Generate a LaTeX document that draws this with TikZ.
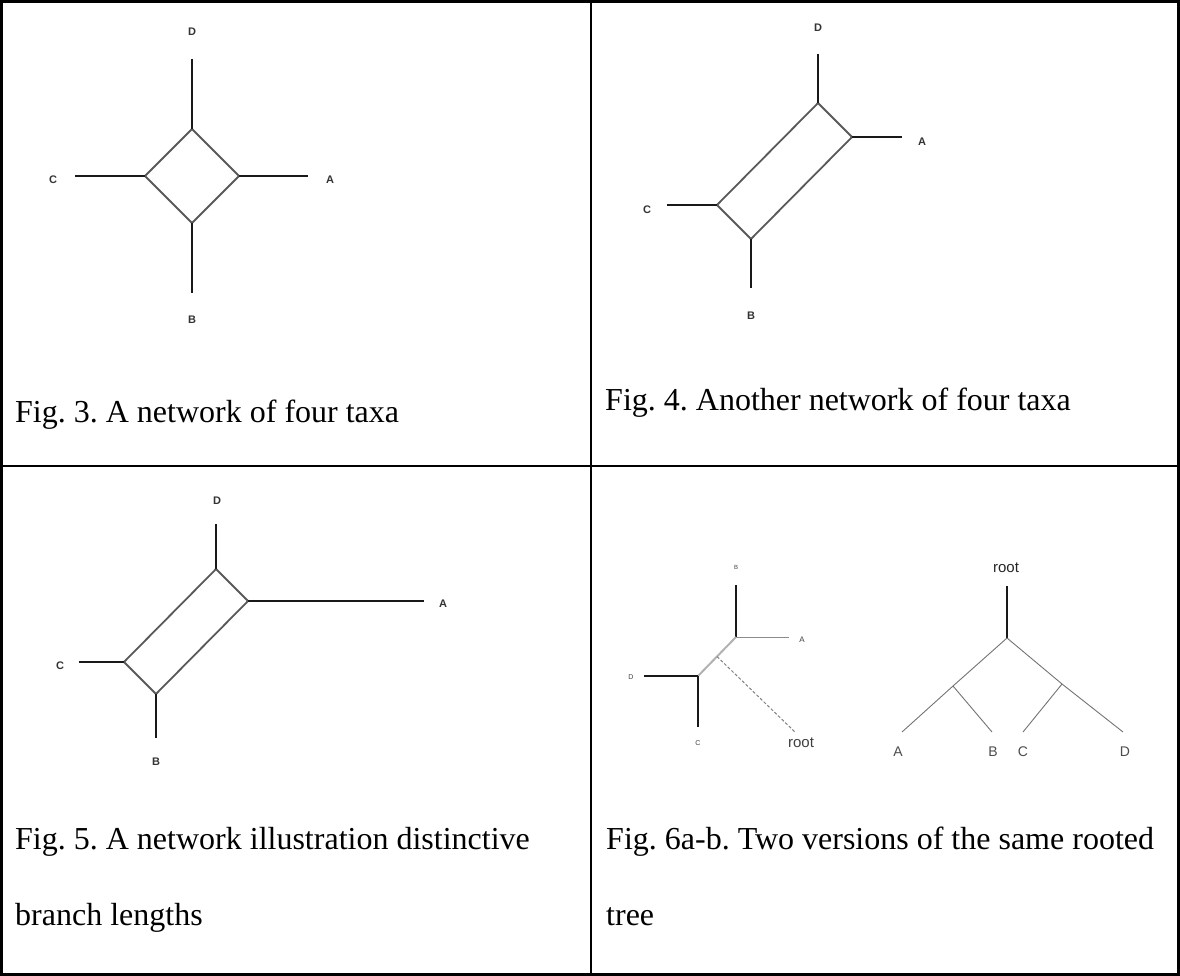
\documentclass[tikz,border=0pt]{standalone}
\usepackage{fontspec}
\setmainfont{Liberation Serif}
\setsansfont{Liberation Sans}
\usepackage{tikz}
\frenchspacing

\begin{document}
\begin{tikzpicture}[
  x=1pt, y=-1pt,
  every node/.style={inner sep=0pt},
  frame/.style={line width=2.5pt, black},
  figcap/.style={anchor=base west, font=\fontsize{32}{36}\selectfont},
  taxon/.style={font=\sffamily\bfseries\fontsize{11}{13}\selectfont, text=black!80},
  smalltaxon/.style={font=\sffamily\fontsize{#1}{#1}\selectfont, text=black!75},
  pendant/.style={line width=1.6pt, black!90},
  splitedge/.style={line width=1.8pt, black!65},
  treeedge/.style={line width=0.9pt, black!55},
  rootpath/.style={line width=1pt, black!50, dash pattern=on 3pt off 2pt}
]
  \useasboundingbox (0,0) rectangle (1180,976);
  % table
  \draw[frame] (1.5,1.5) rectangle (1178.5,974.5);
  \draw[frame] (591,1.5) -- (591,974.5);
  \draw[frame] (1.5,466) -- (1178.5,466);

  % Fig. 3: square split network
  \coordinate (n3) at (192,129);
  \coordinate (e3) at (239,176);
  \coordinate (s3) at (192,223);
  \coordinate (w3) at (145,176);
  \coordinate (d3) at (192,59);
  \coordinate (a3) at (308,176);
  \coordinate (b3) at (192,293);
  \coordinate (c3) at (75,176);
  \node[taxon] (D3) at (192,32) {D};
  \node[taxon] (A3) at (330,180) {A};
  \node[taxon] (B3) at (192,320) {B};
  \node[taxon] (C3) at (53,180) {C};
  \draw[splitedge] (n3) -- (e3) -- (s3) -- (w3) -- cycle;
  \draw[pendant] (d3) -- (n3);
  \draw[pendant] (e3) -- (a3);
  \draw[pendant] (s3) -- (b3);
  \draw[pendant] (c3) -- (w3);
  \node[figcap] (cap3) at (15,422) {Fig. 3. A network of four taxa};

  % Fig. 4: long split
  \coordinate (n4) at (818,103);
  \coordinate (e4) at (852,137);
  \coordinate (s4) at (751,239);
  \coordinate (w4) at (717,205);
  \coordinate (d4) at (818,54);
  \coordinate (a4) at (902,137);
  \coordinate (b4) at (751,288);
  \coordinate (c4) at (667,205);
  \node[taxon] (D4) at (818,28) {D};
  \node[taxon] (A4) at (922,142) {A};
  \node[taxon] (B4) at (751,316) {B};
  \node[taxon] (C4) at (647,210) {C};
  \draw[splitedge] (n4) -- (e4) -- (s4) -- (w4) -- cycle;
  \draw[pendant] (d4) -- (n4);
  \draw[pendant] (e4) -- (a4);
  \draw[pendant] (s4) -- (b4);
  \draw[pendant] (c4) -- (w4);
  \node[figcap] (cap4) at (605,410) {Fig. 4. Another network of four taxa};

  % Fig. 5: long branch to A
  \coordinate (n5) at (216,569);
  \coordinate (e5) at (248,601);
  \coordinate (s5) at (156,694);
  \coordinate (w5) at (124,662);
  \coordinate (d5) at (216,524);
  \coordinate (a5) at (424,601);
  \coordinate (b5) at (156,738);
  \coordinate (c5) at (79,662);
  \node[taxon] (D5) at (217,501) {D};
  \node[taxon] (A5) at (443,604) {A};
  \node[taxon] (B5) at (156,762) {B};
  \node[taxon] (C5) at (60,666) {C};
  \draw[splitedge] (n5) -- (e5) -- (s5) -- (w5) -- cycle;
  \draw[pendant] (d5) -- (n5);
  \draw[pendant] (e5) -- (a5);
  \draw[pendant] (s5) -- (b5);
  \draw[pendant] (c5) -- (w5);
  \node[figcap] (cap5) at (15,849) {Fig. 5. A network illustration distinctive};
  \node[figcap] (cap5b) at (15,925) {branch lengths};

  % Fig. 6a: unrooted drawing with root edge
  \coordinate (u6) at (736,637);
  \coordinate (v6) at (698,676);
  \coordinate (m6) at (717,656.5);
  \coordinate (top6) at (736,585);
  \coordinate (a6) at (789,637);
  \coordinate (d6) at (644,676);
  \coordinate (c6) at (698,727);
  \coordinate (rt6) at (796,733);
  \node[smalltaxon=6] (B6a) at (736,567) {B};
  \node[smalltaxon=8] (A6a) at (802,640) {A};
  \node[smalltaxon=7] (D6a) at (631,677) {D};
  \node[smalltaxon=7] (C6a) at (698,743) {C};
  \node[smalltaxon=15] (R6a) at (801,743) {root};
  \draw[pendant, line width=1.5pt] (top6) -- (u6);
  \draw[treeedge, black!45] (u6) -- (a6);
  \draw[line width=2pt, black!30] (u6) -- (v6);
  \draw[pendant, line width=1.8pt] (d6) -- (v6);
  \draw[pendant, line width=1.5pt] (v6) -- (c6);
  \draw[rootpath] (m6) -- (rt6);

  % Fig. 6b: rooted tree
  \coordinate (r6) at (1007,638);
  \coordinate (p6) at (953,686);
  \coordinate (q6) at (1062,684);
  \coordinate (rtop6) at (1007,586);
  \coordinate (la6) at (902,732);
  \coordinate (lb6) at (992,732);
  \coordinate (lc6) at (1023,732);
  \coordinate (ld6) at (1123,732);
  \node[smalltaxon=15, text=black!85] (R6b) at (1006,568) {root};
  \node[smalltaxon=14, text=black!70] (A6b) at (898,752) {A};
  \node[smalltaxon=14, text=black!70] (B6b) at (993,752) {B};
  \node[smalltaxon=14, text=black!70] (C6b) at (1023,752) {C};
  \node[smalltaxon=14, text=black!70] (D6b) at (1125,752) {D};
  \draw[pendant] (rtop6) -- (r6);
  \draw[treeedge] (r6) -- (p6) -- (la6);
  \draw[treeedge] (p6) -- (lb6);
  \draw[treeedge] (r6) -- (q6) -- (ld6);
  \draw[treeedge] (q6) -- (lc6);
  \node[figcap] (cap6) at (606,849) {Fig. 6a-b. Two versions of the same rooted};
  \node[figcap] (cap6b) at (606,925) {tree};
\end{tikzpicture}
\end{document}
